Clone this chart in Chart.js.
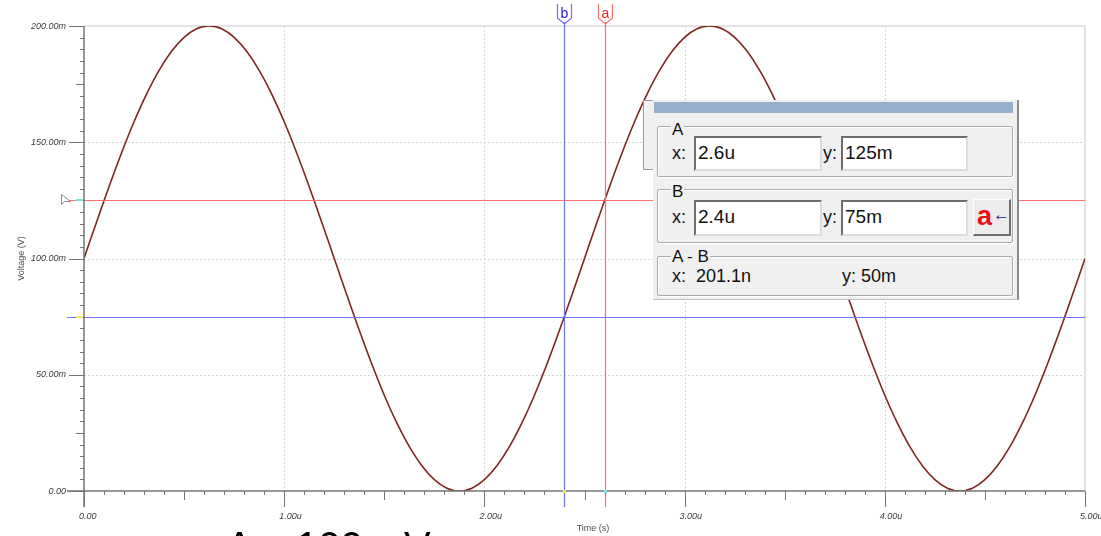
<!DOCTYPE html>
<html>
<head>
<meta charset="utf-8">
<script src="https://cdn.jsdelivr.net/npm/chart.js@4.4.1/dist/chart.umd.min.js"></script>
<style>
body { margin:0; background:#fff; font-family:"Liberation Sans", Arial, sans-serif; }
#wrap { position:relative; width:1101px; height:536px; overflow:hidden; }
#chart { position:absolute; left:0; top:0; }
.abs { position:absolute; }
.grp { position:absolute; border:1px solid #a9a9a9; box-shadow:inset 1px 1px 0 #fff, 1px 1px 0 #fff; border-radius:2px; }
.lbl { position:absolute; font-size:17px; line-height:17px; color:#111; background:#f0f0f0; padding:0 1px; }
.txt { position:absolute; font-size:18px; line-height:20px; color:#111; }
.inp { position:absolute; background:#fff; border-top:2px solid #6e6e6e; border-left:2px solid #6e6e6e; border-bottom:2px solid #dcdcdc; border-right:2px solid #dcdcdc; box-sizing:border-box; font-size:19px; line-height:30px; padding-left:2px; color:#111; }
.big { position:absolute; top:526px; font-size:40px; line-height:40px; color:#000; white-space:pre; }
</style>
</head>
<body>
<div id="wrap">
<canvas id="chart" width="1101" height="536"></canvas>

<!-- window behind the dialog -->
<div class="abs" style="left:643px;top:100px;width:12px;height:68px;background:#f0f0f0;border:1px solid #9a9a9a;"></div>

<!-- cursor dialog -->
<div class="abs" style="left:653px;top:100px;width:364px;height:199px;background:#f0f0f0;border-right:2px solid #8a8a8a;border-bottom:1px solid #bdbdbd;"></div>
<div class="abs" style="left:654px;top:102px;width:359px;height:11px;background:#95afcc;"></div>

<div class="grp" style="left:657px;top:126px;width:354px;height:49px;"></div>
<div class="lbl" style="left:671px;top:121px;">A</div>
<div class="txt" style="left:672px;top:143px;">x:</div>
<div class="inp" style="left:694px;top:136px;width:128px;height:35px;">2.6u</div>
<div class="txt" style="left:823px;top:143px;">y:</div>
<div class="inp" style="left:841px;top:136px;width:127px;height:35px;">125m</div>

<div class="grp" style="left:657px;top:189px;width:354px;height:52px;"></div>
<div class="lbl" style="left:671px;top:183px;">B</div>
<div class="txt" style="left:672px;top:207px;">x:</div>
<div class="inp" style="left:694px;top:200px;width:128px;height:36px;">2.4u</div>
<div class="txt" style="left:823px;top:207px;">y:</div>
<div class="inp" style="left:841px;top:200px;width:127px;height:36px;">75m</div>
<div class="abs" style="left:973px;top:199px;width:38px;height:37px;box-sizing:border-box;background:#ececec;border-top:1px solid #fff;border-left:1px solid #fff;border-right:2px solid #6e6e6e;border-bottom:2px solid #6e6e6e;">
  <span class="abs" style="left:3px;top:1px;font-size:27px;line-height:30px;font-weight:bold;color:#e8101c;">a</span>
  <span class="abs" style="left:19px;top:6px;font-size:17px;line-height:18px;font-weight:bold;color:#1a1a8c;">&larr;</span>
</div>

<div class="grp" style="left:657px;top:256px;width:354px;height:38px;"></div>
<div class="lbl" style="left:671px;top:248px;">A - B</div>
<div class="txt" style="left:672px;top:266px;">x:&nbsp; 201.1n</div>
<div class="txt" style="left:842px;top:266px;">y: 50m</div>

<!-- large caption cut off at the bottom -->
<div class="big" style="left:226px;">A =</div>
<div class="big" style="left:296px;">100m</div>
<div class="big" style="left:404px;">V</div>
</div>

<script>
// time in microseconds, voltage in millivolts
const timeUs = [
0, 0.0625, 0.125, 0.1875, 0.25, 0.3125, 0.375, 0.4375, 0.5, 0.5625,
0.625, 0.6875, 0.75, 0.8125, 0.875, 0.9375, 1, 1.0625, 1.125, 1.1875,
1.25, 1.3125, 1.375, 1.4375, 1.5, 1.5625, 1.625, 1.6875, 1.75, 1.8125,
1.875, 1.9375, 2, 2.0625, 2.125, 2.1875, 2.25, 2.3125, 2.375, 2.4375,
2.5, 2.5625, 2.625, 2.6875, 2.75, 2.8125, 2.875, 2.9375, 3, 3.0625,
3.125, 3.1875, 3.25, 3.3125, 3.375, 3.4375, 3.5, 3.5625, 3.625, 3.6875,
3.75, 3.8125, 3.875, 3.9375, 4, 4.0625, 4.125, 4.1875, 4.25, 4.3125,
4.375, 4.4375, 4.5, 4.5625, 4.625, 4.6875, 4.75, 4.8125, 4.875, 4.9375, 5
];
const voltageMv = [
100, 115.6, 130.9, 145.4, 158.8, 170.7, 180.9, 189.1, 195.1, 198.8,
200, 198.8, 195.1, 189.1, 180.9, 170.7, 158.8, 145.4, 130.9, 115.6,
100, 84.4, 69.1, 54.6, 41.2, 29.3, 19.1, 10.9, 4.9, 1.2,
0, 1.2, 4.9, 10.9, 19.1, 29.3, 41.2, 54.6, 69.1, 84.4,
100, 115.6, 130.9, 145.4, 158.8, 170.7, 180.9, 189.1, 195.1, 198.8,
200, 198.8, 195.1, 189.1, 180.9, 170.7, 158.8, 145.4, 130.9, 115.6,
100, 84.4, 69.1, 54.6, 41.2, 29.3, 19.1, 10.9, 4.9, 1.2,
0, 1.2, 4.9, 10.9, 19.1, 29.3, 41.2, 54.6, 69.1, 84.4, 100
];

const xTickValues = [0, 1, 2, 3, 4, 5];
const xTickLabels = ["0.00", "1.00u", "2.00u", "3.00u", "4.00u", "5.00u"];
const yTickValues = [0, 50, 100, 150, 200];
const yTickLabels = ["0.00", "50.00m", "100.00m", "150.00m", "200.00m"];

// cursors: a (red) and b (blue)
const cursorNames = ["a", "b"];
const cursorX = [2.6, 2.4];
const cursorY = [125, 75];
const cursorColors = ["#ff6f6f", "#6f6fff"];
const cursorMarks = ["#7fe6ea", "#f2e36a"];

const overlay = {
  id: "overlay",
  beforeDatasetsDraw(chart) {
    const ctx = chart.ctx;
    const xs = chart.scales.x, ys = chart.scales.y;
    const L = xs.getPixelForValue(0), R = xs.getPixelForValue(5);
    const T = ys.getPixelForValue(200), B = ys.getPixelForValue(0);
    ctx.save();
    // dotted grid
    ctx.strokeStyle = "#d6d6d6";
    ctx.lineWidth = 1;
    ctx.setLineDash([2, 2]);
    xTickValues.slice(1, -1).forEach(v => {
      const px = Math.round(xs.getPixelForValue(v)) + 0.5;
      ctx.beginPath(); ctx.moveTo(px, T); ctx.lineTo(px, B); ctx.stroke();
    });
    yTickValues.slice(1, -1).forEach(v => {
      const py = Math.round(ys.getPixelForValue(v)) + 0.5;
      ctx.beginPath(); ctx.moveTo(L, py); ctx.lineTo(R, py); ctx.stroke();
    });
    // frame top / right
    ctx.setLineDash([]);
    ctx.strokeStyle = "#e3e3e3";
    ctx.lineWidth = 2;
    ctx.beginPath(); ctx.moveTo(L, T); ctx.lineTo(R, T); ctx.lineTo(R, B); ctx.stroke();
    ctx.restore();
  },
  afterDatasetsDraw(chart) {
    const ctx = chart.ctx;
    const xs = chart.scales.x, ys = chart.scales.y;
    const L = xs.getPixelForValue(0), R = xs.getPixelForValue(5);
    const T = ys.getPixelForValue(200), B = ys.getPixelForValue(0);
    ctx.save();

    // cursor lines
    ctx.lineWidth = 1.2;
    cursorNames.forEach((n, i) => {
      const px = Math.round(xs.getPixelForValue(cursorX[i])) + 0.5;
      const py = Math.round(ys.getPixelForValue(cursorY[i])) + 0.5;
      ctx.strokeStyle = cursorColors[i];
      ctx.beginPath(); ctx.moveTo(px, 22); ctx.lineTo(px, B + 16); ctx.stroke();
      ctx.beginPath(); ctx.moveTo(L - 17, py); ctx.lineTo(R, py); ctx.stroke();
      // flag on top
      ctx.beginPath();
      ctx.moveTo(px - 7, 4); ctx.lineTo(px - 7, 18); ctx.lineTo(px, 24);
      ctx.lineTo(px + 7, 18); ctx.lineTo(px + 7, 4);
      ctx.stroke();
      ctx.fillStyle = i === 0 ? "#f02020" : "#2020e0";
      ctx.font = "14px 'Liberation Sans', Arial, sans-serif";
      ctx.textAlign = "center";
      ctx.textBaseline = "alphabetic";
      ctx.fillText(n, px, 18);
    });

    // axes
    ctx.strokeStyle = "#747474";
    ctx.lineWidth = 1.5;
    ctx.beginPath(); ctx.moveTo(L, T); ctx.lineTo(L, B + 16); ctx.stroke();
    ctx.beginPath(); ctx.moveTo(L - 17, B); ctx.lineTo(R, B); ctx.stroke();

    // y ticks every 5m
    ctx.lineWidth = 1;
    for (let v = 0; v <= 200; v += 5) {
      const py = Math.round(ys.getPixelForValue(v)) + 0.5;
      const len = v % 50 === 0 ? 15 : (v % 25 === 0 ? 8 : 4);
      ctx.beginPath(); ctx.moveTo(L - len, py); ctx.lineTo(L, py); ctx.stroke();
    }
    // x ticks every 0.1u
    for (let i = 0; i <= 50; i++) {
      const px = Math.round(xs.getPixelForValue(i / 10)) + 0.5;
      const len = i % 10 === 0 ? 16 : (i % 5 === 0 ? 9 : 4);
      ctx.beginPath(); ctx.moveTo(px, B); ctx.lineTo(px, B + len); ctx.stroke();
    }

    // cursor marks on the axes
    cursorNames.forEach((n, i) => {
      const px = Math.round(xs.getPixelForValue(cursorX[i]));
      const py = Math.round(ys.getPixelForValue(cursorY[i]));
      ctx.fillStyle = cursorMarks[i];
      ctx.fillRect(L - 8, py - 1, 7, 2);
      ctx.fillRect(px - 1, B - 1, 3, 3);
    });

    // tick labels
    ctx.fillStyle = "#3a3a3a";
    ctx.font = "italic 9px 'Liberation Sans', Arial, sans-serif";
    ctx.textAlign = "right";
    ctx.textBaseline = "middle";
    yTickValues.forEach((v, i) => ctx.fillText(yTickLabels[i], L - 18, ys.getPixelForValue(v)));
    ctx.textAlign = "left";
    ctx.textBaseline = "top";
    xTickValues.forEach((v, i) => ctx.fillText(xTickLabels[i], xs.getPixelForValue(v) - 5, B + 21));

    // axis titles
    ctx.fillStyle = "#505050";
    ctx.font = "9px 'Liberation Sans', Arial, sans-serif";
    ctx.textAlign = "center";
    ctx.textBaseline = "middle";
    ctx.fillText("Time (s)", 593, 529);
    ctx.translate(22, ys.getPixelForValue(100));
    ctx.rotate(-Math.PI / 2);
    ctx.fillText("Voltage (V)", 0, 0);
    ctx.restore();

    // mouse pointer
    ctx.save();
    ctx.strokeStyle = "#8a8a8a";
    ctx.fillStyle = "#fff";
    ctx.lineWidth = 1;
    ctx.beginPath();
    ctx.moveTo(61.5, 194.5); ctx.lineTo(61.5, 204.5); ctx.lineTo(64.5, 201.5);
    ctx.lineTo(70.5, 201.5); ctx.closePath();
    ctx.fill(); ctx.stroke();
    ctx.restore();
  }
};

new Chart(document.getElementById("chart"), {
  type: "line",
  data: {
    datasets: [{
      data: timeUs.map((t, i) => ({ x: t, y: voltageMv[i] })),
      borderColor: "#7e2720",
      borderWidth: 1.6,
      pointRadius: 0,
      tension: 0.4,
      fill: false
    }]
  },
  options: {
    responsive: false,
    animation: false,
    devicePixelRatio: 1,
    layout: { padding: { left: 84, right: 16, top: 26, bottom: 45 } },
    plugins: { legend: { display: false }, tooltip: { enabled: false } },
    scales: {
      x: { type: "linear", min: 0, max: 5, display: false },
      y: { type: "linear", min: 0, max: 200, display: false }
    }
  },
  plugins: [overlay]
});
</script>
</body>
</html>
